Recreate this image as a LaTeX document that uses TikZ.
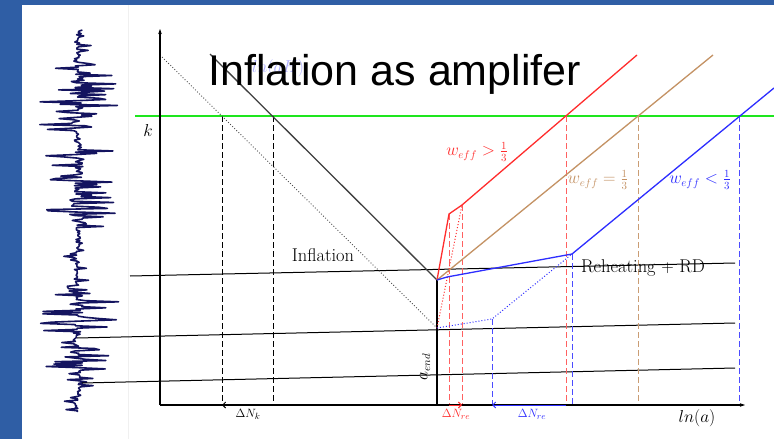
\documentclass[tikz,border=0pt]{standalone}
\usepackage{fontspec}
\usetikzlibrary{arrows.meta}
\newfontfamily\titlefont{Liberation Sans}
\definecolor{slideblue}{RGB}{47,94,165}
\definecolor{effred}{RGB}{255,45,45}
\definecolor{efftan}{RGB}{196,146,100}
\definecolor{effblue}{RGB}{45,45,255}
\definecolor{kgreen}{RGB}{30,230,30}
\definecolor{signavy}{RGB}{20,20,95}

\pgfmathdeclarefunction{sigamp}{1}{%
  \pgfmathparse{(#1<45)*8 + (#1>=45)*(#1<70)*22 + (#1>=70)*(#1<130)*40
    + (#1>=130)*(#1<150)*3 + (#1>=150)*(#1<230)*40 + (#1>=230)*(#1<250)*4
    + (#1>=250)*(#1<290)*14 + (#1>=290)*(#1<332)*40 + (#1>=332)*(#1<342)*4
    + (#1>=342)*(#1<372)*34 + (#1>=372)*14}}

\begin{document}
\begin{tikzpicture}[x=1pt, y=-1pt,
    axis/.style={line width=1.1pt, -{Stealth[length=5pt,width=3.5pt]}},
    hline/.style={line width=1pt},
    vdash/.style={line width=1pt, dash pattern=on 5.5pt off 3.5pt},
    lab/.style={font=\fontsize{16}{18}\selectfont, inner sep=0pt},
    txtlab/.style={font=\fontsize{18.5}{21}\selectfont, inner sep=0pt},
    dnlab/.style={font=\fontsize{12.5}{14}\selectfont, inner sep=0pt},
    signal/.style={signavy, line width=1.6pt, line join=round}
  ]
  \useasboundingbox (0,0) rectangle (774,439);
  \fill[slideblue] (0,0) rectangle (774,439);
  \fill[white] (22,5) rectangle (774,439);
  \draw[gray!12] (128,5) -- (128,439);

  \pgfmathsetseed{11}
  \draw[signal] plot[variable=\t, domain=30:412, samples=320]
    ({78 + 2*sin(\t*5) + sigamp(\t)*rand*(rnd>0.45 ? 1 : 0.12)}, \t);

  \coordinate (O) at (160,405);
  \coordinate (ytip) at (160,29);
  \coordinate (xtip) at (745,405);
  \coordinate (kl) at (135,116);
  \coordinate (kr) at (774,116);
  \coordinate (dA) at (160,55);
  \coordinate (sA) at (210,54);
  \coordinate (aend) at (437,280);
  \coordinate (alow) at (437,328);
  \coordinate (kd) at (222,116);
  \coordinate (ks) at (273,116);
  \coordinate (r1) at (449,214);
  \coordinate (r2) at (462,205);
  \coordinate (rk) at (566,116);
  \coordinate (rtop) at (637,55);
  \coordinate (bk) at (638,116);
  \coordinate (btop) at (713,55);
  \coordinate (bl1) at (447,277);
  \coordinate (bl2) at (572,254);
  \coordinate (bd1) at (492,319);
  \coordinate (blk) at (739,116);
  \coordinate (bltop) at (774,88);
  \coordinate (h1a) at (130,276);
  \coordinate (h1b) at (735,263);
  \coordinate (h2a) at (77,338);
  \coordinate (h2b) at (735,323);
  \coordinate (h3a) at (82,383);
  \coordinate (h3b) at (735,368);

  \draw[hline] (h1a) -- (h1b);
  \draw[hline] (h2a) -- (h2b);
  \draw[hline] (h3a) -- (h3b);

  \draw[kgreen, line width=1.1pt] (kl) -- (kr);

  \draw[vdash] (kd) -- (kd |- O);
  \draw[vdash] (ks) -- (ks |- O);
  \draw[effred!75, vdash] (r1) -- (r1 |- O);
  \draw[effred!75, vdash] (r2) -- (r2 |- O);
  \draw[effred!75, vdash] (rk) -- (rk |- O);
  \draw[efftan!90, vdash] (bk) -- (bk |- O);
  \draw[effblue!85, vdash] (bd1) -- (bd1 |- O);
  \draw[effblue!85, vdash] (bl2) -- (bl2 |- O);
  \draw[effblue!85, vdash] (blk) -- (blk |- O);

  \draw[black!70, dotted, line width=0.9pt] (dA) -- (alow);
  \draw[black!75, line width=1.3pt] (sA) -- (aend);
  \draw[line width=1.1pt] (aend) -- (aend |- O);

  \draw[effred, line width=1.3pt] (aend) -- (r1) -- (r2) -- (rtop);
  \draw[effred, dotted, line width=1pt] (alow) -- (r2);
  \draw[efftan, line width=1.3pt] (aend) -- (btop);
  \draw[effblue, line width=1.3pt] (aend) -- (bl1) -- (bl2) -- (bltop);
  \draw[effblue, dotted, line width=1pt] (alow) -- (bd1) -- (bl2);

  \draw[axis] (O) -- (ytip);
  \draw[axis] (O) -- (xtip);

  \draw[line width=0.9pt, -{Straight Barb[length=3pt]}] (ks |- O) -- (kd |- O);
  \draw[effred, line width=1pt, -{Straight Barb[length=3pt]}] (r1 |- O) -- (r2 |- O);
  \draw[effblue, line width=1pt, -{Straight Barb[length=3pt]}] (rk |- O) -- (bd1 |- O);

  \node[lab] (klab) at (148,130) {$k$};
  \node[txtlab] (inflab) at (323,255) {Inflation};
  \node[txtlab] (rhlab) at (643,268) {Reheating $+$ RD};
  \node[lab, text=effred] (wgt) at (477,152) {$w_{eff} > \frac{1}{3}$};
  \node[lab, text=efftan] (weq) at (598,180) {$w_{eff} = \frac{1}{3}$};
  \node[lab, text=effblue] (wlt) at (700,180) {$w_{eff} < \frac{1}{3}$};
  \node[lab, rotate=90] (aendlab) at (425,367) {$a_{end}$};
  \node[lab] (lnalab) at (697,418) {$ln(a)$};
  \node[dnlab] (dnk) at (248,414) {$\Delta N_k$};
  \node[dnlab, text=effred] (dnred) at (456,414) {$\Delta N_{re}$};
  \node[dnlab, text=effblue] (dnblue) at (532,414) {$\Delta N_{re}$};
  \node[lab, text=effblue!40] (lnaH) at (278,68) {$ln(aH)$};

  \node[anchor=base west, inner sep=0pt, font=\titlefont\fontsize{43}{50}\selectfont] (title) at (208,85) {Inflation as amplifer};
\end{tikzpicture}
\end{document}
